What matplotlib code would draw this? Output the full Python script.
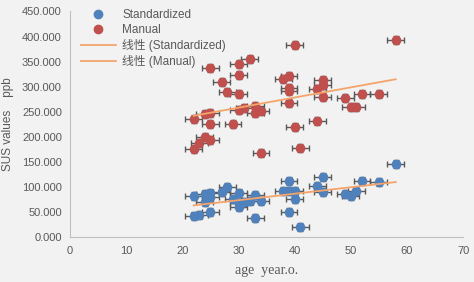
import matplotlib
matplotlib.use("Agg")
import matplotlib.pyplot as plt
import numpy as np

# age (years) and SUS values (ppb)
std_age = [22, 22, 23, 24, 24, 25, 25, 25, 27, 28, 29, 30, 30, 30, 31, 32, 33, 33,
           34, 38, 39, 39, 39, 40, 40, 41, 44, 45, 45, 49, 50, 51, 52, 55, 58]
std_sus = [83, 42, 44, 86, 71, 89, 81, 50, 91, 101, 76, 88, 68, 61, 71, 73, 84, 39,
           72, 92, 112, 92, 50, 92, 76, 20, 103, 121, 90, 86, 82, 92, 113, 111, 146]

man_age = [22, 22, 23, 24, 24, 25, 25, 25, 25, 27, 28, 29, 30, 30, 30, 30, 31, 32,
           33, 33, 34, 34, 38, 39, 39, 39, 39, 40, 40, 41, 44, 44, 45, 45, 45, 49,
           50, 51, 52, 55, 58]
man_sus = [235, 175, 187, 246, 199, 247, 226, 194, 337, 310, 289, 225, 345, 324,
           285, 253, 257, 355, 262, 247, 252, 167, 315, 321, 297, 291, 267, 383,
           220, 177, 295, 232, 313, 304, 280, 277, 260, 260, 285, 285, 394]

AGE_ERR = 1.5
SUS_ERR = 8

x_ticks = [0, 10, 20, 30, 40, 50, 60, 70]
y_ticks = [0, 50, 100, 150, 200, 250, 300, 350, 400, 450]

BLUE = "#4F81BD"
RED = "#C0504D"
ORANGE = "#F4A46A"
GREY = "#595959"
BG = "#F2F2F2"

plt.rcParams["font.family"] = ["Liberation Sans", "Noto Sans CJK SC"]
plt.rcParams["font.size"] = 8

fig = plt.figure(figsize=(4.74, 2.82), dpi=100, facecolor=BG)
ax = fig.add_axes([0.148, 0.1585, 0.829, 0.801], facecolor=BG)

series = [
    (std_age, std_sus, BLUE, "Standardized"),
    (man_age, man_sus, RED, "Manual"),
]

handles = []
for age, sus, color, name in series:
    ax.errorbar(age, sus, xerr=AGE_ERR, yerr=SUS_ERR, fmt="none",
                ecolor=GREY, elinewidth=1, capsize=2.5, capthick=1, zorder=2)
    h, = ax.plot(age, sus, "o", color=color, ms=6, mec=color, zorder=3,
                 label=name, linestyle="none")
    handles.append(h)

for age, sus, color, name in series:
    slope, intercept = np.polyfit(age, sus, 1)
    xs = np.array([min(age), max(age)])
    h, = ax.plot(xs, slope * xs + intercept, color=ORANGE, lw=1.3, zorder=4,
                 label=f"线性 ({name})")
    handles.append(h)

ax.set_xlim(0, 70)
ax.set_ylim(0, 450)
ax.set_xticks(x_ticks)
ax.set_yticks(y_ticks)
ax.set_yticklabels([f"{v:.3f}" for v in y_ticks])
ax.tick_params(length=0, colors=GREY, labelsize=8, pad=6)

for side in ["top", "right"]:
    ax.spines[side].set_visible(False)
for side in ["left", "bottom"]:
    ax.spines[side].set_color("#BFBFBF")
    ax.spines[side].set_linewidth(0.8)

ax.set_xlabel("age  year.o.", family="Liberation Serif", fontsize=10,
              color=GREY, labelpad=6)
ax.set_ylabel("SUS values    ppb", fontsize=8.5, color=GREY, labelpad=6)

leg = fig.legend(handles=handles, loc="upper left", bbox_to_anchor=(0.148, 1.005),
                 frameon=False, handlelength=3.0, handletextpad=0.5,
                 labelspacing=0.25, fontsize=8.5, labelcolor=GREY)

fig.savefig("out.png", dpi=100, facecolor=BG)
